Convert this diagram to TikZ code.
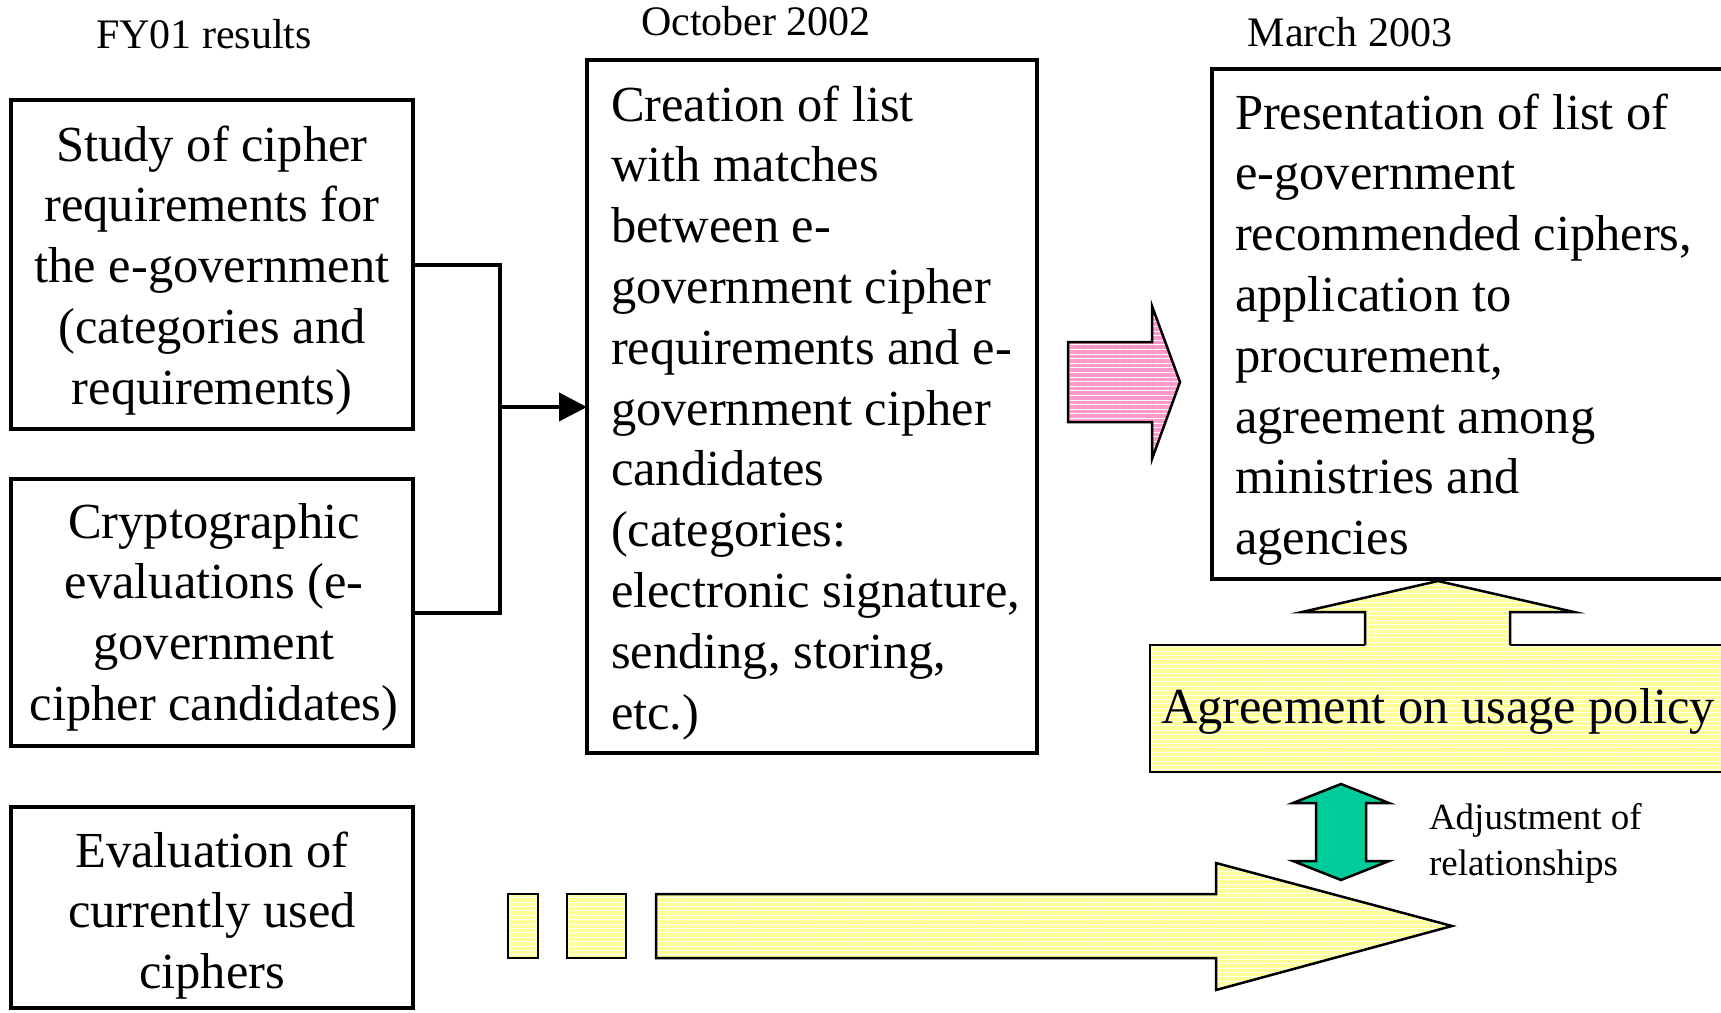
\documentclass[tikz,border=0pt]{standalone}
\usepackage{fontspec}
\setmainfont{Liberation Serif}
\usetikzlibrary{arrows.meta,patterns.meta}

\definecolor{bandyellow}{HTML}{FFFF99}
\definecolor{bandpink}{HTML}{FF99CC}
\definecolor{adjgreen}{HTML}{00CC99}

\newcommand\bigtxt{\fontsize{50.5}{60.8}\selectfont}
\newcommand\headtxt{\fontsize{42}{48}\selectfont}
\newcommand\smalltxt{\fontsize{37}{46}\selectfont}

\tikzset{
  box/.style={draw, line width=4.2pt, inner sep=0pt, outer sep=0pt, anchor=north west},
  txt/.style={inner sep=0pt, outer sep=0pt},
  conn/.style={line width=4pt},
  yellowfill/.style={preaction={fill=bandyellow},
    pattern={Lines[angle=0,distance=4.4pt,line width=1pt]}, pattern color=white},
  pinkfill/.style={preaction={fill=bandpink},
    pattern={Lines[angle=0,distance=4.6pt,line width=1pt]}, pattern color=white},
  outline/.style={draw, line width=2.5pt},
}

\begin{document}
\begin{tikzpicture}[x=1pt,y=-1pt]
\useasboundingbox (0,0) rectangle (1721,1012);
\clip (0,0) rectangle (1721,1012);
\fill[white] (0,0) rectangle (1721,1012);

% column headings
\node[txt, anchor=base] (hfy) at (204,48) {\headtxt FY01 results};
\node[txt, anchor=base] (hoct) at (756,35) {\headtxt October 2002};
\node[txt, anchor=base] (hmar) at (1350,46) {\headtxt March 2003};

% left-hand boxes
\node[box, minimum width=402pt, minimum height=329pt] (study) at (11,100) {};
\node[box, minimum width=402pt, minimum height=267pt] (eval) at (11,479) {};
\node[box, minimum width=402pt, minimum height=201pt] (current) at (11,807) {};

\node[txt, anchor=base] (studytext) at (212,161)
  {\parbox[t]{400pt}{\centering\bigtxt Study of cipher\\requirements for\\the e-government\\(categories and\\requirements)}};
\node[txt, anchor=base] (evaltext) at (214,538)
  {\parbox[t]{400pt}{\centering\bigtxt Cryptographic\\evaluations (e-\\government\\cipher candidates)}};
\node[txt, anchor=base] (currenttext) at (212,867)
  {\parbox[t]{400pt}{\centering\bigtxt Evaluation of\\currently used\\ciphers}};

% list box
\node[box, minimum width=450pt, minimum height=693pt] (list) at (587,60) {};
\node[txt, anchor=base west] (listtext) at (611,121)
  {\parbox[t]{430pt}{\raggedright\bigtxt Creation of list\\with matches\\between e-\\government cipher\\requirements and e-\\government cipher\\candidates\\(categories:\\electronic signature,\\sending, storing,\\etc.)}};

% presentation box
\node[box, minimum width=600pt, minimum height=510pt] (present) at (1212,69) {};
\node[txt, anchor=base west] (presenttext) at (1235,129)
  {\parbox[t]{480pt}{\raggedright\bigtxt Presentation of list of\\e-government\\recommended ciphers,\\application to\\procurement,\\agreement among\\ministries and\\agencies}};

% connectors into the list box
\coordinate (join) at (500,407);
\draw[conn] (study.east) -| (join) |- (eval.east);
\draw[conn, -{Triangle[length=28pt,width=28pt]}] (join) -- (join -| list.west);

% pink block arrow
\draw[pinkfill, outline] (1068,342) -- (1152,342) -- (1152,306) -- (1180,382)
  -- (1152,459) -- (1152,422) -- (1068,422) -- cycle;

% usage policy band with upward arrow
\node[box, yellowfill, line width=2.5pt, minimum width=650pt, minimum height=127pt] (policy) at (1150,645) {};
\fill[yellowfill] (1365,648) -- (1365,612) -- (1302,612) -- (1438,581)
  -- (1574,612) -- (1510,612) -- (1510,648) -- cycle;
\draw[line width=2.5pt] (1365,645) -- (1365,612) -- (1302,612) -- (1438,581)
  -- (1574,612) -- (1510,612) -- (1510,645);
\node[txt, anchor=base west] (policytext) at (1161,723) {\bigtxt Agreement on usage policy};

% two-way adjustment arrow
\draw[outline, fill=adjgreen] (1341,784) -- (1389,803) -- (1366,803) -- (1366,861)
  -- (1389,861) -- (1341,880) -- (1293,861) -- (1316,861) -- (1316,803)
  -- (1293,803) -- cycle;
\node[txt, anchor=base west] (adjtext) at (1429,829)
  {\parbox[t]{300pt}{\raggedright\smalltxt Adjustment of\\relationships}};

% timeline arrow along the bottom
\draw[yellowfill, outline] (508,894) rectangle (538,958);
\draw[yellowfill, outline] (567,894) rectangle (626,958);
\draw[yellowfill, outline] (656,894) -- (1216,894) -- (1216,863) -- (1452,926)
  -- (1216,990) -- (1216,958) -- (656,958) -- cycle;
\end{tikzpicture}
\end{document}
